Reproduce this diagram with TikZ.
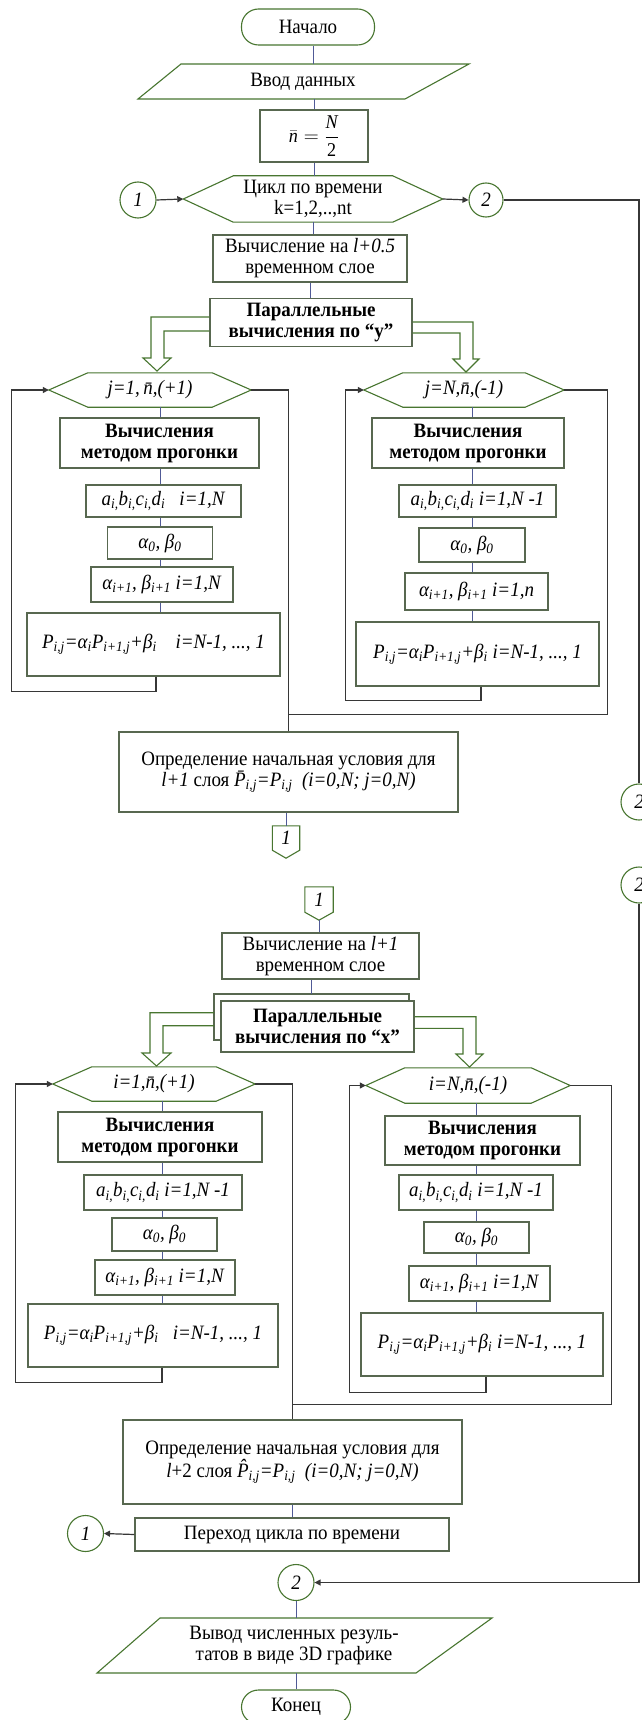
\documentclass[tikz,border=0pt]{standalone}
\usepackage{fontspec}
\setmainfont{Liberation Serif}[FakeStretch=0.93]
\usetikzlibrary{arrows.meta,calc}
\definecolor{grn}{RGB}{72,118,48}
\definecolor{boxc}{RGB}{88,104,80}
\definecolor{flowc}{RGB}{80,90,150}
\definecolor{loopc}{RGB}{55,55,55}
\newcommand\sbb[1]{\textsubscript{#1}}
\newcommand\hexdraw[2]{\draw[grnline] (#1.west) -- ($(#1.north west)+(#2,0)$) -- ($(#1.north east)+(-#2,0)$) -- (#1.east) -- ($(#1.south east)+(-#2,0)$) -- ($(#1.south west)+(#2,0)$) -- cycle;}
\newcommand\offdraw[1]{\draw[grnline] (#1.north west) -- (#1.north east) -- (#1.south east) -- ($(#1.south)+(0,8)$) -- (#1.south west) -- cycle;}
\begin{document}
\begin{tikzpicture}[x=1pt,y=-1pt,
  every node/.style={font=\fontsize{20.4}{21}\selectfont, inner sep=0pt, align=center},
  box/.style={draw=boxc, line width=1.1pt, fill=white},
  term/.style={draw=grn, line width=1.1pt, rounded corners=17pt},
  conn/.style={draw=grn, line width=1.1pt, fill=white, circle, minimum size=36pt},
  ghost/.style={draw=none},
  bld/.style={font=\fontsize{20.4}{21}\selectfont\bfseries},
  grnline/.style={draw=grn, line width=1.1pt},
  flow/.style={draw=flowc, line width=1pt},
  loop/.style={draw=loopc, line width=1.2pt},
  arr/.style={-{Triangle[length=6pt,width=6pt]}},
]
\useasboundingbox (0,0) rectangle (641,1720);
\fill[white] (0,0) rectangle (641,1720);

\coordinate (cL1) at (160,0);
\coordinate (cR1) at (472,0);
\coordinate (cL2) at (162,0);
\coordinate (cR2) at (476,0);

% ---------- top part ----------
\node[term, minimum width=133, minimum height=36] (start) at (308,27) {Начало};
\draw[grnline] (181,64) -- (469,64) -- (405,99) -- (138,99) -- cycle;
\node[ghost, minimum height=35] (in) at (303,81.5) {Ввод данных};
\node[box, minimum width=108, minimum height=52, font=\fontsize{19.5}{20}\selectfont] (nb) at (314,136) {$\displaystyle\bar{\textit{n}}=\frac{\textit{N}}{\textrm{2}}$};
\node[ghost, minimum width=259, minimum height=46] (cyc) at (313,199) {Цикл по времени\\k=1,2,..,nt};
\hexdraw{cyc}{50}
\node[conn] (c1) at (138,200) {\textit{1}};
\node[conn, minimum size=34pt] (c2) at (486,200) {\textit{2}};
\node[box, minimum width=194, minimum height=47] (calc1) at (310,258.5) {Вычисление на \textit{l+0.5}\\временном слое};
\node[box, bld, minimum width=202, minimum height=48] (par1) at (311,322.5) {Параллельные\\вычисления по “y”};

\draw[flow] (start.south -| 313,0) -- (in.north -| 313,0);
\draw[flow] (in.south -| nb) -- (nb.north);
\draw[flow] (nb.south) -- (nb.south |- cyc.north);
\draw[flow] (cyc.south) -- (cyc.south |- calc1.north);
\draw[flow] (calc1.south) -- (calc1.south |- par1.north);
\draw[loop,arr] (c1.east) -- (cyc.west);
\draw[loop,arr] (cyc.east) -- (c2.west);

% hollow arrows (y)
\draw[grnline] (par1.west |- 0,317) -- (151,317) -- (151,358) -- (143,358) -- (157,371) -- (171,358) -- (164,358) -- (164,331) -- (par1.west |- 0,331);
\draw[grnline] (par1.east |- 0,322) -- (473,322) -- (473,359) -- (479,359) -- (466,372) -- (453,359) -- (460,359) -- (460,333) -- (par1.east |- 0,333);

% ---------- y loops ----------
\node[ghost, minimum width=202, minimum height=34] (hL1) at (150,390) {\textit{j=1,\,\={n},(+1)}};
\hexdraw{hL1}{39}
\node[ghost, minimum width=200, minimum height=34] (hR1) at (464,390) {\textit{j=N,\={n},(-1)}};
\hexdraw{hR1}{39}

\node[box, bld, minimum width=199, minimum height=50] (mL1) at (159.5,443) {Вычисления\\методом прогонки};
\node[box, minimum width=155, minimum height=32] (aL1) at (163.5,501) {\textit{a\sbb{i,}b\sbb{i,}c\sbb{i,}d\sbb{i}~~ i=1,N}};
\node[box, minimum width=105, minimum height=32] (zL1) at (160,543) {\textit{α\sbb{0}, β\sbb{0}}};
\node[box, minimum width=142, minimum height=35] (bL1) at (162,584.5) {\textit{α\sbb{i+1}, β\sbb{i+1} i=1,N}};
\node[box, minimum width=253, minimum height=63] (pL1) at (153.5,644.5) {\textit{P\sbb{i,j}=α\sbb{i}P\sbb{i+1,j}+β\sbb{i}~~~ i=N-1, ..., 1}};

\node[box, bld, minimum width=192, minimum height=50] (mR1) at (468,443) {Вычисления\\методом прогонки};
\node[box, minimum width=157, minimum height=32] (aR1) at (477.5,501) {\textit{a\sbb{i,}b\sbb{i,}c\sbb{i,}d\sbb{i} i=1,N -1}};
\node[box, minimum width=106, minimum height=34] (zR1) at (472,545) {\textit{α\sbb{0}, β\sbb{0}}};
\node[box, minimum width=143, minimum height=37] (bR1) at (476.5,591.5) {\textit{α\sbb{i+1}, β\sbb{i+1} i=1,n}};
\node[box, minimum width=243, minimum height=64] (pR1) at (477.5,654) {\textit{P\sbb{i,j}=α\sbb{i}P\sbb{i+1,j}+β\sbb{i} i=N-1, ..., 1}};

\foreach \a/\b in {hL1/mL1, mL1/aL1, aL1/zL1, zL1/bL1, bL1/pL1}
  \draw[flow] (\a.south -| cL1) -- (\b.north -| cL1);
\foreach \a/\b in {hR1/mR1, mR1/aR1, aR1/zR1, zR1/bR1, bR1/pR1}
  \draw[flow] (\a.south -| cR1) -- (\b.north -| cR1);

\draw[loop,arr] (pL1.south -| 156,0) -- ++(0,15) -| ($(hL1.west)+(-37,0)$) -- (hL1.west);
\draw[loop,arr] (pR1.south -| 481,0) -- ++(0,14) -| ($(hR1.west)+(-18,0)$) -- (hR1.west);

\node[box, minimum width=339, minimum height=80] (def1) at (288.5,772) {Определение начальная условия для\\\textit{l+1} слоя \textit{\={P}\sbb{i,j}=P\sbb{i,j}~~(i=0,N; j=0,N)}};
\coordinate (j1) at ($(def1.north)+(0,-17)$);
\draw[loop] (hL1.east) -| (def1.north);
\draw[loop] (hR1.east) -- ++(43,0) |- (j1);

\node[ghost, minimum width=27, minimum height=24] (off1) at (286,838) {\textit{1}};
\offdraw{off1}
\draw[flow] (def1.south -| off1) -- (off1.north);

% right connectors 2
\node[conn] (c2a) at (639,802) {\textit{2}};
\node[conn] (c2b) at (639,885) {\textit{2}};
\draw[loop] (c2.east) -| (c2a.north);

% ---------- second half ----------
\node[ghost, minimum width=28, minimum height=25] (off2) at (319,899.5) {\textit{1}};
\offdraw{off2}
\coordinate (off2tip) at ($(off2.south)+(0,8)$);
\node[box, minimum width=197, minimum height=46] (calc2) at (320.5,956) {Вычисление на \textit{l+1}\\временном слое};
\draw[flow] (off2tip) -- (off2tip |- calc2.north);

\draw[box] (214,994) rectangle (409,1040);
\coordinate (par2back) at (311.5,994);
\node[box, bld, minimum width=193, minimum height=51] (par2) at (317.5,1026.5) {Параллельные\\вычисления по “x”};
\draw[flow] (calc2.south -| par2back) -- (par2back);

% hollow arrows (x)
\draw[grnline] (214,1012.7) -- (150,1012.7) -- (150,1053) -- (142,1053) -- (156.5,1066) -- (171,1053) -- (163,1053) -- (163,1025.7) -- (214,1025.7);
\draw[grnline] (par2.east |- 0,1016.7) -- (476,1016.7) -- (476,1054) -- (483,1054) -- (469.5,1067) -- (456,1054) -- (463,1054) -- (463,1028.3) -- (par2.east |- 0,1028.3);

\node[ghost, minimum width=202, minimum height=34] (hL2) at (154,1084) {\textit{i=1,\={n},(+1)}};
\hexdraw{hL2}{39}
\node[ghost, minimum width=204, minimum height=35] (hR2) at (468,1085.5) {\textit{i=N,\={n},(-1)}};
\hexdraw{hR2}{39}

\node[box, bld, minimum width=204, minimum height=50] (mL2) at (160,1137) {Вычисления\\методом прогонки};
\node[box, minimum width=158, minimum height=35] (aL2) at (163,1192.5) {\textit{a\sbb{i,}b\sbb{i,}c\sbb{i,}d\sbb{i} i=1,N -1}};
\node[box, minimum width=105, minimum height=33] (zL2) at (164.5,1234.5) {\textit{α\sbb{0}, β\sbb{0}}};
\node[box, minimum width=140, minimum height=35] (bL2) at (165,1277.5) {\textit{α\sbb{i+1}, β\sbb{i+1} i=1,N}};
\node[box, minimum width=250, minimum height=63] (pL2) at (153,1335.5) {\textit{P\sbb{i,j}=α\sbb{i}P\sbb{i+1,j}+β\sbb{i}~~ i=N-1, ..., 1}};

\node[box, bld, minimum width=195, minimum height=49] (mR2) at (482.5,1140.5) {Вычисления\\методом прогонки};
\node[box, minimum width=154, minimum height=35] (aR2) at (476,1192.5) {\textit{a\sbb{i,}b\sbb{i,}c\sbb{i,}d\sbb{i} i=1,N -1}};
\node[box, minimum width=105, minimum height=31] (zR2) at (476.5,1237.5) {\textit{α\sbb{0}, β\sbb{0}}};
\node[box, minimum width=141, minimum height=35] (bR2) at (479.5,1283.5) {\textit{α\sbb{i+1}, β\sbb{i+1} i=1,N}};
\node[box, minimum width=242, minimum height=63] (pR2) at (482,1344.5) {\textit{P\sbb{i,j}=α\sbb{i}P\sbb{i+1,j}+β\sbb{i} i=N-1, ..., 1}};

\foreach \a/\b in {hL2/mL2, mL2/aL2, aL2/zL2, zL2/bL2, bL2/pL2}
  \draw[flow] (\a.south -| cL2) -- (\b.north -| cL2);
\foreach \a/\b in {hR2/mR2, mR2/aR2, aR2/zR2, zR2/bR2, bR2/pR2}
  \draw[flow] (\a.south -| cR2) -- (\b.north -| cR2);

\draw[loop,arr] (pL2.south -| cL2) -- ++(0,15) -| ($(hL2.west)+(-37,0)$) -- (hL2.west);
\draw[loop,arr] (pR2.south -| 486,0) -- ++(0,16) -| ($(hR2.west)+(-16,0)$) -- (hR2.west);

\node[box, minimum width=339, minimum height=84] (def2) at (292.5,1462) {Определение начальная условия для\\\textit{l}+2 слоя \textit{\^{P}\sbb{i,j}=P\sbb{i,j}~~(i=0,N; j=0,N)}};
\coordinate (j2) at ($(def2.north)+(0,-15)$);
\draw[loop] (hL2.east) -| (def2.north);
\draw[loop] (hR2.east) -- ++(41,0) |- (j2);

\node[box, minimum width=314, minimum height=33] (trans) at (292,1534.5) {Переход цикла по времени};
\draw[flow] (def2.south) -- (def2.south |- trans.north);
\node[conn] (c1b) at (85.5,1533.5) {\textit{1}};
\draw[loop,arr] (trans.west) -- (c1b.east);

\node[conn] (c2c) at (296,1582.5) {\textit{2}};
\draw[loop,arr] (c2b.south) |- (c2c.east);

\draw[grnline] (160,1618) -- (492,1618) -- (416,1673) -- (97,1673) -- cycle;
\node[ghost, minimum height=55] (out) at (294,1645.5) {Вывод численных резуль-\\татов в виде 3D графике};
\draw[flow] (c2c.south) -- (c2c.south |- out.north);

\node[term, minimum width=109, minimum height=34] (fin) at (296,1707) {Конец};
\draw[flow] (out.south -| fin) -- (fin.north);
\end{tikzpicture}
\end{document}
